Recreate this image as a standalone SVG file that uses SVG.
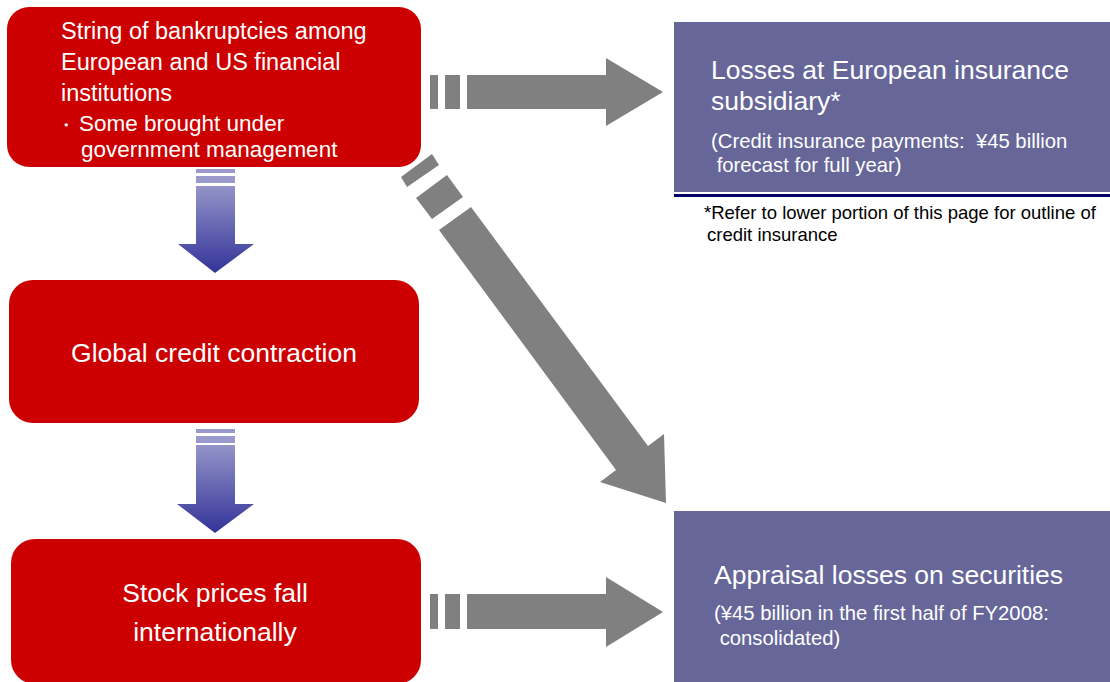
<svg xmlns="http://www.w3.org/2000/svg" width="1110" height="682" viewBox="0 0 1110 682">
<defs>
<linearGradient id="blueGrad" x1="0" y1="0" x2="0" y2="1">
<stop offset="0" stop-color="#9494c9"/>
<stop offset="1" stop-color="#333399"/>
</linearGradient>
</defs>
<style>
.red{fill:#cc0000;}
.purple{fill:#666699;}
.gray{fill:#808080;}
.stripe{fill:#9999cc;}
.wt{fill:#ffffff;font-family:"Liberation Sans",Arial,sans-serif;}
.big{font-size:26.5px;}
.mid{font-size:23.5px;}
.bul{font-size:22.5px;}
.sub{font-size:20.3px;white-space:pre;}
.note{fill:#000000;font-family:"Liberation Sans",Arial,sans-serif;font-size:18.5px;}
</style>
<rect width="1110" height="682" fill="#ffffff"/>

<g id="connectors">
<!-- top horizontal arrow -->
<rect class="gray" x="430" y="75" width="8" height="34"/>
<rect class="gray" x="445" y="75" width="15" height="34"/>
<polygon class="gray" points="467,75 606,75 606,58 663,92 606,126 606,109 467,109"/>
<!-- bottom horizontal arrow -->
<rect class="gray" x="430" y="594" width="8" height="35"/>
<rect class="gray" x="445" y="594" width="15" height="35"/>
<polygon class="gray" points="467,594 606,594 606,577 663,612 606,647 606,629 467,629"/>
<!-- diagonal arrow -->
<polygon class="gray" points="401,177 432,154 439,165 407,187"/>
<polygon class="gray" points="416,198 447,175 463,197 432,219"/>
<polygon class="gray" points="439,230 471,207 648,446 664,434 666,503 600,482 616,470"/>
<!-- blue down arrow 1 -->
<rect class="stripe" x="196" y="169" width="39" height="4"/>
<rect class="stripe" x="196" y="176" width="39" height="7"/>
<polygon fill="url(#blueGrad)" points="196,186 235,186 235,244 254,244 215,273 178,244 196,244"/>
<!-- blue down arrow 2 -->
<rect class="stripe" x="196" y="429" width="39" height="4"/>
<rect class="stripe" x="196" y="436" width="39" height="7"/>
<polygon fill="url(#blueGrad)" points="196,445 235,445 235,504 254,504 215,533 177,504 196,504"/>
</g>

<g id="node-bankruptcies">
<rect class="red" x="7" y="7" width="414" height="160" rx="22" ry="22"/>
<text class="wt mid" x="61" y="39">String of bankruptcies among</text>
<text class="wt mid" x="61" y="70">European and US financial</text>
<text class="wt mid" x="61" y="101">institutions</text>
<text class="wt" x="56" y="132" font-size="20px" font-family="'Noto Sans CJK JP',sans-serif">・</text>
<text class="wt bul" x="79" y="131">Some brought under</text>
<text class="wt bul" x="81" y="156.5">government management</text>
</g>

<g id="node-credit">
<rect class="red" x="9" y="280" width="410" height="143" rx="24" ry="24"/>
<text class="wt big" x="214" y="362" text-anchor="middle">Global credit contraction</text>
</g>

<g id="node-stock">
<rect class="red" x="11" y="539" width="410" height="145" rx="24" ry="24"/>
<text class="wt big" x="215" y="602" text-anchor="middle">Stock prices fall</text>
<text class="wt big" x="215" y="641" text-anchor="middle">internationally</text>
</g>

<g id="node-insurance">
<rect class="purple" x="674" y="22" width="436" height="170"/>
<rect fill="#000066" x="674" y="194" width="436" height="3"/>
<text class="wt big" x="711" y="79">Losses at European insurance</text>
<text class="wt big" x="711" y="110">subsidiary*</text>
<text class="wt sub" x="711" y="148">(Credit insurance payments:  ¥45 billion</text>
<text class="wt sub" x="711" y="172"> forecast for full year)</text>
</g>

<g id="footnote">
<text class="note" x="704" y="219">*Refer to lower portion of this page for outline of</text>
<text class="note" x="707" y="241">credit insurance</text>
</g>

<g id="node-appraisal">
<rect class="purple" x="674" y="511" width="436" height="171"/>
<text class="wt big" x="714" y="584">Appraisal losses on securities</text>
<text class="wt sub" x="714" y="620">(¥45 billion in the first half of FY2008:</text>
<text class="wt sub" x="714" y="645"> consolidated)</text>
</g>
</svg>
